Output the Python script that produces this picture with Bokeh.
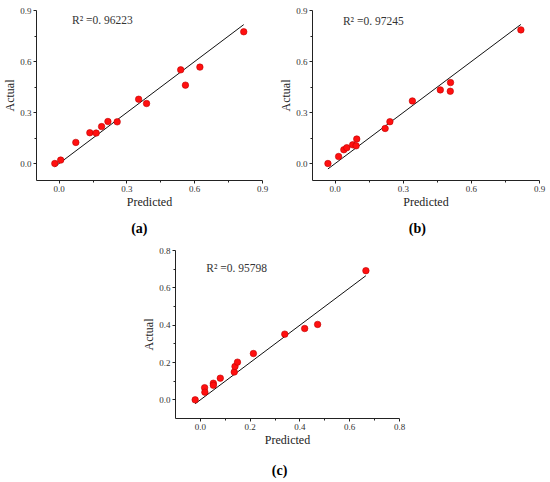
from bokeh.plotting import figure
from bokeh.models import FixedTicker, PrintfTickFormatter, Label, Range1d, Spacer, LinearAxis
from bokeh.layouts import column, row
from bokeh.embed import file_html
from bokeh.resources import INLINE

# ---------------- data ----------------
pred_a = [-0.019, 0.007, 0.074, 0.136, 0.164, 0.188, 0.216, 0.257, 0.352, 0.387, 0.538, 0.559, 0.623, 0.817]
act_a = [0.000, 0.020, 0.124, 0.181, 0.179, 0.217, 0.247, 0.245, 0.378, 0.353, 0.551, 0.461, 0.567, 0.775]
r2_a = "R\u00b2 =0. 96223"

pred_b = [-0.032, 0.015, 0.038, 0.051, 0.077, 0.092, 0.095, 0.220, 0.241, 0.340, 0.463, 0.508, 0.507, 0.818]
act_b = [0.000, 0.041, 0.081, 0.093, 0.110, 0.104, 0.144, 0.206, 0.246, 0.368, 0.433, 0.476, 0.425, 0.786]
r2_b = "R\u00b2 =0. 97245"

pred_c = [-0.021, 0.017, 0.018, 0.052, 0.052, 0.080, 0.136, 0.139, 0.149, 0.213, 0.339, 0.419, 0.471, 0.665]
act_c = [0.000, 0.065, 0.041, 0.089, 0.078, 0.116, 0.149, 0.179, 0.202, 0.248, 0.352, 0.382, 0.404, 0.692]
r2_c = "R\u00b2 =0. 95798"

ticks_ab = [0.0, 0.3, 0.6, 0.9]
minor_ab = [0.15, 0.45, 0.75]
ticks_c = [0.0, 0.2, 0.4, 0.6, 0.8]
minor_c = [0.1, 0.3, 0.5, 0.7]

FONT = "Liberation Serif"


def panel(pred, act, r2, lo, hi, major, minor, r2_xy, letter, letter_x, letter_gap,
          width, height, mbl, mbr, mbt, mbb):
    p = figure(width=width, height=height, x_range=Range1d(lo, hi), y_range=Range1d(lo, hi),
               output_backend="svg", toolbar_location=None,
               min_border_left=mbl, min_border_right=mbr,
               min_border_top=mbt, min_border_bottom=mbb)
    p.outline_line_color = None
    p.grid.visible = False
    for ax in (p.xaxis[0], p.yaxis[0]):
        ax.ticker = FixedTicker(ticks=major, minor_ticks=minor)
        ax.formatter = PrintfTickFormatter(format="%.1f")
        ax.axis_line_color = "#222222"
        ax.axis_line_width = 1
        ax.major_tick_line_color = "#222222"
        ax.minor_tick_line_color = "#222222"
        ax.major_tick_out = 3
        ax.major_tick_in = 0
        ax.minor_tick_out = 2
        ax.minor_tick_in = 0
        ax.major_label_text_font = FONT
        ax.major_label_text_font_size = "9px"
        ax.major_label_text_color = "#333333"
        ax.major_label_standoff = 2
        ax.axis_label_text_font = FONT
        ax.axis_label_text_font_size = "12px"
        ax.axis_label_text_font_style = "normal"
        ax.axis_label_text_color = "#222222"
        ax.axis_label_standoff = 0
    p.xaxis.axis_label = "Predicted"
    p.yaxis.axis_label = "Actual"

    # sub-figure letter, placed as the single tick label of a bare extra axis
    lab = LinearAxis(ticker=FixedTicker(ticks=[letter_x], minor_ticks=[]),
                     major_label_overrides={letter_x: "(" + letter + ")"},
                     axis_line_color=None, major_tick_line_color=None,
                     minor_tick_line_color=None, major_tick_out=0, major_tick_in=0,
                     minor_tick_out=0, minor_tick_in=0,
                     major_label_standoff=letter_gap,
                     major_label_text_font=FONT, major_label_text_font_size="14px",
                     major_label_text_font_style="bold", major_label_text_color="#000000")
    p.add_layout(lab, "below")

    lx = [min(pred), max(pred)]
    p.line(lx, lx, line_color="#111111", line_width=1)
    p.scatter(pred, act, size=6.5, fill_color="#ff1010", line_color="#c00000", line_width=0.6)

    p.add_layout(Label(x=r2_xy[0], y=r2_xy[1], text=r2, text_font=FONT, text_font_size="11.5px",
                       text_color="#333333", text_baseline="middle", text_align="left"))
    return p


pa = panel(pred_a, act_a, r2_a, -0.1, 0.9, ticks_ab, minor_ab, (0.057, 0.845), "a", 0.355, 9,
           276, 240, 32, 14, 10, 60)
pb = panel(pred_b, act_b, r2_b, -0.1, 0.9, ticks_ab, minor_ab, (0.034, 0.837), "b", 0.362, 9,
           274, 240, 32, 11, 10, 60)
pc = panel(pred_c, act_c, r2_c, -0.1, 0.8, ticks_c, minor_c, (0.024, 0.708), "c", 0.318, 13,
           272, 242, 32, 12, 10, 64)

layout = column(row(pa, pb), row(Spacer(width=139, height=242), pc))

open("out.html", "w").write(file_html(layout, INLINE))
